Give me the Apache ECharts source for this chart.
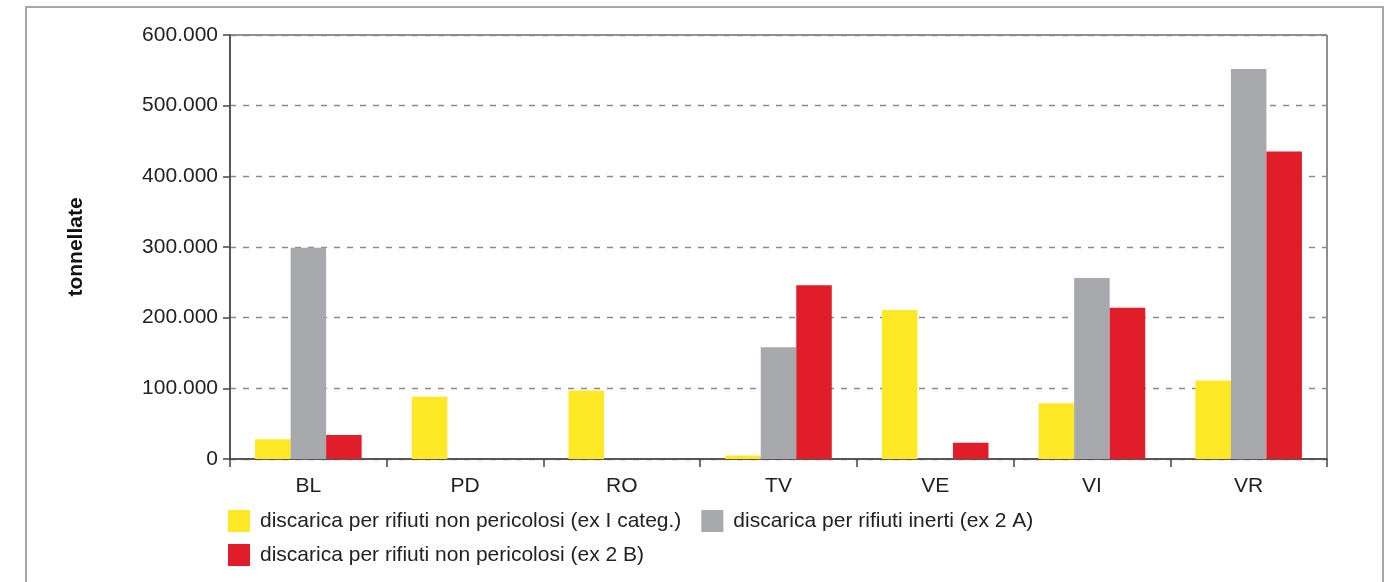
<!DOCTYPE html>
<html>
<head>
<meta charset="utf-8">
<script src="https://cdn.jsdelivr.net/npm/echarts@6/dist/echarts.min.js"></script>
<style>
  html, body { margin: 0; padding: 0; background: #fff; }
  #chart { width: 1392px; height: 582px; }
</style>
</head>
<body>
<div id="chart"></div>
<script>
// province e valori (tonnellate)
var province = ['BL', 'PD', 'RO', 'TV', 'VE', 'VI', 'VR'];
var nonPericolosiExI = [28000, 88000, 97000, 5000, 211000, 79000, 111000];
var inertiEx2A = [299000, 0, 0, 158000, 0, 256000, 552000];
var nonPericolosiEx2B = [34000, 0, 0, 246000, 23000, 214000, 435000];
var nomiSerie = [
    'discarica per rifiuti non pericolosi (ex I categ.)',
    'discarica per rifiuti inerti (ex 2 A)',
    'discarica per rifiuti non pericolosi (ex 2 B)'
];

function formatta(v) {
    return String(v).replace(/\B(?=(\d{3})+(?!\d))/g, '.');
}

var myChart = echarts.init(document.getElementById('chart'));

var font = 'Liberation Sans, Arial, Helvetica, sans-serif';

var option = {
    animation: false,
    backgroundColor: '#fff',
    textStyle: { fontFamily: font },
    graphic: [
        {
            type: 'rect',
            shape: { x: 26, y: 7, width: 1357, height: 600 },
            style: { fill: 'none', stroke: '#a8a8a8', lineWidth: 2 }
        }
    ],
    grid: { left: 230, right: 65, top: 35, bottom: 123, containLabel: false, show: true, borderColor: '#222', borderWidth: 1 },
    legend: [
        {
            left: 223, top: 505,
            itemWidth: 22, itemHeight: 22, itemGap: 20,
            icon: 'rect',
            data: [nomiSerie[0], nomiSerie[1]],
            textStyle: { fontSize: 21, color: '#222', fontFamily: font, padding: [0, 0, 0, 5] }
        },
        {
            left: 223, top: 539,
            itemWidth: 22, itemHeight: 22,
            icon: 'rect',
            data: [nomiSerie[2]],
            textStyle: { fontSize: 21, color: '#222', fontFamily: font, padding: [0, 0, 0, 5] }
        }
    ],
    xAxis: {
        type: 'category',
        data: province,
        axisLine: { lineStyle: { color: '#444', width: 1.5 } },
        axisTick: { show: true, length: 8, lineStyle: { color: '#444', width: 1.5 } },
        axisLabel: { fontSize: 21, color: '#222', margin: 17, fontFamily: font }
    },
    yAxis: {
        type: 'value',
        min: 0, max: 600000, interval: 100000,
        name: 'tonnellate',
        nameLocation: 'middle',
        nameGap: 143,
        nameTextStyle: { fontSize: 21, fontWeight: 'bold', color: '#111', fontFamily: font },
        axisLine: { show: true, lineStyle: { color: '#444', width: 1.5 } },
        axisTick: { show: true, length: 7, lineStyle: { color: '#444', width: 1.5 } },
        axisLabel: { fontSize: 21, color: '#222', margin: 12, fontFamily: font, formatter: formatta },
        splitLine: { lineStyle: { color: '#8a8a8a', type: [6, 7], width: 1.3 } }
    },
    series: [
        {
            name: nomiSerie[0], type: 'bar', data: nonPericolosiExI,
            itemStyle: { color: '#FFE826' },
            barGap: '0%', barCategoryGap: '32%'
        },
        {
            name: nomiSerie[1], type: 'bar', data: inertiEx2A,
            itemStyle: { color: '#A7A9AC' },
            barGap: '0%', barCategoryGap: '32%'
        },
        {
            name: nomiSerie[2], type: 'bar', data: nonPericolosiEx2B,
            itemStyle: { color: '#E11D2A' },
            barGap: '0%', barCategoryGap: '32%'
        }
    ]
};

myChart.setOption(option);
</script>
</body>
</html>
